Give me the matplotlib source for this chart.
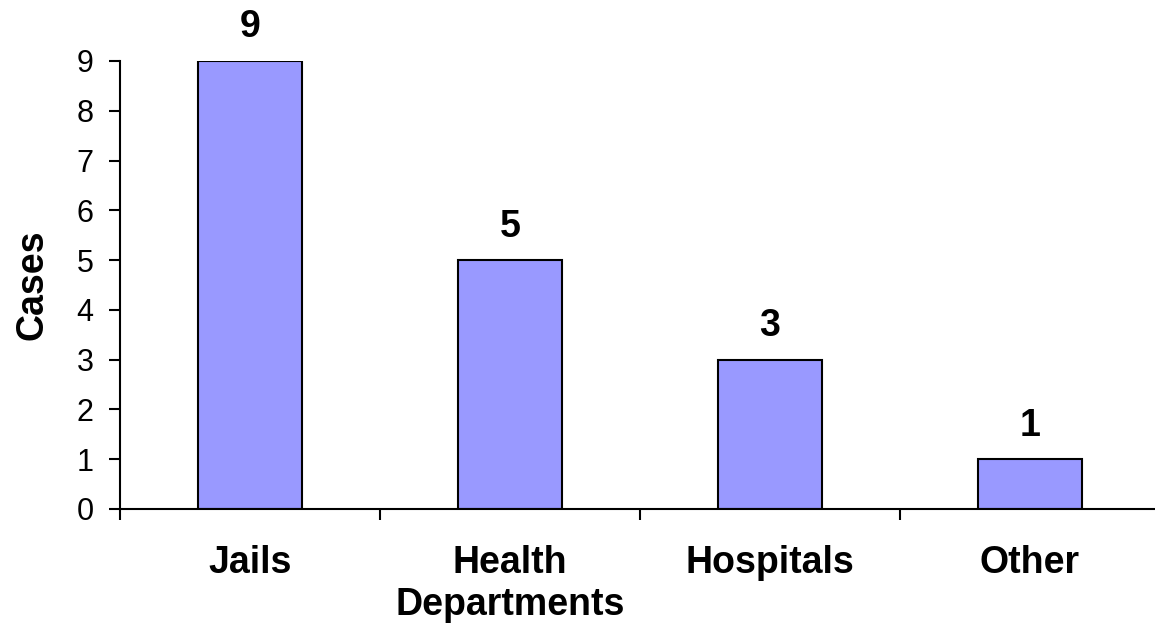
import matplotlib
matplotlib.use("Agg")
import matplotlib.pyplot as plt
import numpy as np

# data
categories = ["Jails", "Health\nDepartments", "Hospitals", "Other"]
cases = [9, 5, 3, 1]
yticks = list(range(0, 10))

bar_color = "#9999FF"

plt.rcParams['font.family'] = ['Liberation Sans', 'DejaVu Sans']

fig = plt.figure(figsize=(11.55, 6.35), dpi=100)
# axes placed by pixel: left 120, right 1160, bottom 509, top 61
ax = fig.add_axes([120 / 1155, (635 - 509) / 635, 1040 / 1155, (509 - 61) / 635])

x = np.arange(len(categories))
ax.bar(x, cases, width=0.4, color=bar_color, edgecolor="black", linewidth=1.5, zorder=2)

for xi, v in zip(x, cases):
    ax.annotate(str(v), (xi, v), xytext=(0, 17), textcoords="offset points",
                ha="center", va="baseline", fontsize=27, fontweight="bold")

ax.set_xlim(-0.5, len(categories) - 0.5)
ax.set_ylim(0, 9)
ax.set_yticks(yticks)
ax.tick_params(axis="y", length=8, width=1.5, pad=11, labelsize=22)

# category labels at centres, tick marks at the boundaries
ax.set_xticks(x)
ax.set_xticklabels(categories, fontsize=27, fontweight="bold", linespacing=1.2)
ax.tick_params(axis="x", which="major", length=0, pad=26)
ax.set_xticks(np.arange(-0.5, len(categories), 1.0), minor=True)
ax.tick_params(axis="x", which="minor", length=8, width=1.5)

ax.set_ylabel("Cases", fontsize=27, fontweight="bold", labelpad=19)

for side in ["top", "right"]:
    ax.spines[side].set_visible(False)
for side in ["left", "bottom"]:
    ax.spines[side].set_linewidth(1.5)

fig.savefig("out.png", dpi=100)
